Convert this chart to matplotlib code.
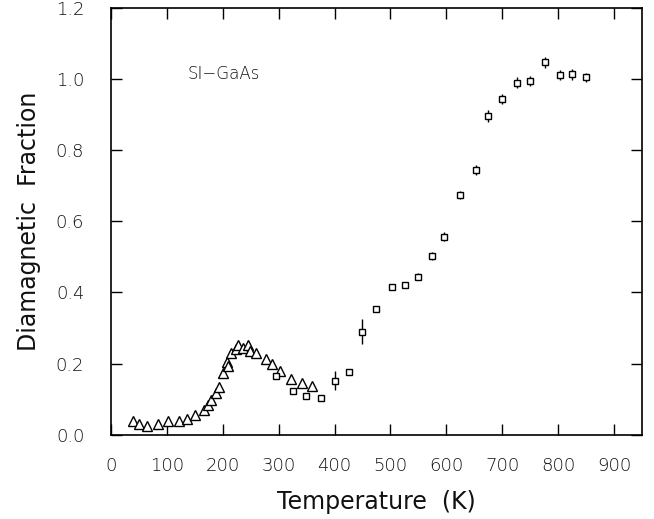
import matplotlib
matplotlib.use("Agg")
import matplotlib.pyplot as plt
import numpy as np

# Triangles (low-temperature run)
tri_T = [39, 51, 64, 85, 102, 122, 136, 150, 166, 174, 179, 188, 194, 201, 207, 210,
         215, 224, 228, 237, 246, 249, 260, 278, 289, 302, 323, 341, 359]
tri_F = [0.039, 0.029, 0.024, 0.031, 0.039, 0.039, 0.045, 0.055, 0.069, 0.083, 0.098,
         0.118, 0.134, 0.173, 0.204, 0.193, 0.229, 0.241, 0.252, 0.244, 0.252, 0.236,
         0.229, 0.213, 0.198, 0.179, 0.158, 0.145, 0.138]

# Squares (high-temperature run) with error bars
sq_T = [295, 325, 349, 376, 401, 425, 450, 475, 503, 526, 549, 575, 596, 625, 653,
        675, 700, 727, 750, 776, 803, 824, 850]
sq_F = [0.166, 0.124, 0.110, 0.102, 0.152, 0.176, 0.290, 0.354, 0.414, 0.422, 0.444,
        0.503, 0.557, 0.674, 0.744, 0.896, 0.943, 0.990, 0.995, 1.047, 1.012, 1.013, 1.005]
sq_err = [0.005, 0.008, 0.005, 0.003, 0.026, 0.005, 0.035, 0.006, 0.008, 0.005, 0.010,
          0.012, 0.012, 0.012, 0.014, 0.016, 0.014, 0.015, 0.015, 0.015, 0.015, 0.015, 0.013]

x_ticks = [0, 100, 200, 300, 400, 500, 600, 700, 800, 900]
y_ticks = [0.0, 0.2, 0.4, 0.6, 0.8, 1.0, 1.2]

plt.rcParams['font.family'] = ['DejaVu Sans']
plt.rcParams['font.weight'] = 'light'
txt_color = '#111111'

fig = plt.figure(figsize=(6.54, 5.19), dpi=100)
ax = fig.add_axes([0.1693, 0.1624, 0.982 - 0.1693, 0.9846 - 0.1624])

ax.plot(tri_T, tri_F, linestyle='none', marker='^', markersize=6.5,
        markerfacecolor='white', markeredgecolor='black', markeredgewidth=1.0)
ax.errorbar(sq_T, sq_F, yerr=sq_err, fmt='s', markersize=5.0,
            markerfacecolor='white', markeredgecolor='black', markeredgewidth=1.0,
            ecolor='black', elinewidth=1.0, capsize=0)

ax.set_xlim(0, 950)
ax.set_ylim(0, 1.2)
ax.set_xticks(x_ticks)
ax.set_yticks(y_ticks)
ax.set_xticklabels([str(v) for v in x_ticks])
ax.set_yticklabels([f"{v:.1f}" for v in y_ticks])

ax.tick_params(direction='in', length=8, width=1.0, top=True, right=True,
               labelsize=13, colors='black', labelcolor=txt_color)
ax.tick_params(axis='x', pad=16)
ax.tick_params(axis='y', pad=19)
for s in ax.spines.values():
    s.set_linewidth(1.2)

ax.set_xlabel("Temperature  (K)", fontsize=17, color=txt_color, labelpad=11)
ax.set_ylabel("Diamagnetic  Fraction", fontsize=17, color=txt_color, labelpad=11)

ax.text(138, 1.014, "SI\u2212GaAs", fontsize=12, color=txt_color, va='center', ha='left')

fig.savefig("out.png", dpi=100)
